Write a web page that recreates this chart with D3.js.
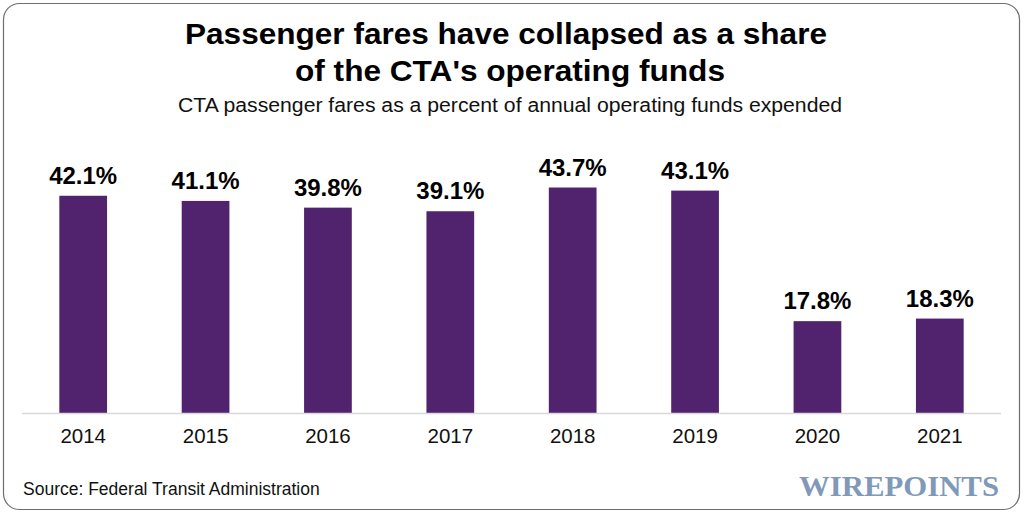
<!DOCTYPE html>
<html>
<head>
<meta charset="utf-8">
<script src="https://cdn.jsdelivr.net/npm/d3@7"></script>
<style>
  body { margin: 0; background: #fff; }
  svg { display: block; font-family: 'Liberation Sans', Arial, sans-serif; }
</style>
</head>
<body>
<svg id="chart" width="1024" height="516"></svg>
<script>
// chart data
const years = ['2014', '2015', '2016', '2017', '2018', '2019', '2020', '2021'];
const fareShare = [42.1, 41.1, 39.8, 39.1, 43.7, 43.1, 17.8, 18.3];
const titleLines = ['Passenger fares have collapsed as a share', "of the CTA's operating funds"];
const subtitle = 'CTA passenger fares as a percent of annual operating funds expended';
const source = 'Source: Federal Transit Administration';

const width = 1024;
const height = 516;
const plot = { left: 22, right: 1001, top: 155, bottom: 413 };

const svg = d3.select('#chart');

// Frame
svg.append('rect')
  .attr('x', 3.5)
  .attr('y', 3.5)
  .attr('width', width - 8)
  .attr('height', height - 10)
  .attr('rx', 16)
  .attr('fill', '#fff')
  .attr('stroke', '#6e6e6e')
  .attr('stroke-width', 1.2);

// Title + subtitle (the original type is a little condensed)
svg.append('g')
  .selectAll('text')
  .data(titleLines)
  .enter()
  .append('text')
  .attr('x', (d, i) => (i === 0 ? 506 : 510))
  .attr('y', (d, i) => 44 + i * 36.5)
  .attr('text-anchor', 'middle')
  .attr('font-size', 30)
  .attr('font-weight', 'bold')
  .attr('fill', '#000')
  .attr('textLength', (d, i) => (i === 0 ? 642 : 430))
  .attr('lengthAdjust', 'spacingAndGlyphs')
  .text((d) => d);

svg.append('text')
  .attr('x', 510)
  .attr('y', 112)
  .attr('text-anchor', 'middle')
  .attr('font-size', 19.5)
  .attr('fill', '#111')
  .attr('textLength', 664)
  .attr('lengthAdjust', 'spacingAndGlyphs')
  .text(subtitle);

// Scales
const x = d3.scaleBand()
  .domain(years)
  .range([plot.left, plot.right])
  .paddingInner(0.61)
  .paddingOuter(0.305);

const y = d3.scaleLinear()
  .domain([0, 50])
  .range([plot.bottom, plot.top]);

// Bars
svg.append('g')
  .selectAll('rect')
  .data(fareShare)
  .enter()
  .append('rect')
  .attr('x', (d, i) => x(years[i]))
  .attr('y', (d) => y(d))
  .attr('width', x.bandwidth())
  .attr('height', (d) => y(0) - y(d))
  .attr('fill', '#51236f');

// Value labels
svg.append('g')
  .selectAll('text')
  .data(fareShare)
  .enter()
  .append('text')
  .attr('x', (d, i) => x(years[i]) + x.bandwidth() / 2)
  .attr('y', (d) => y(d) - 12)
  .attr('text-anchor', 'middle')
  .attr('font-size', 23)
  .attr('font-weight', 'bold')
  .attr('fill', '#000')
  .attr('textLength', 68)
  .attr('lengthAdjust', 'spacingAndGlyphs')
  .text((d) => `${d.toFixed(1)}%`);

// X axis
const xAxis = svg.append('g')
  .attr('transform', `translate(0,${plot.bottom})`)
  .call(d3.axisBottom(x).tickSize(0).tickPadding(15).tickSizeOuter(0));
xAxis.select('.domain')
  .attr('stroke', '#d9d9d9')
  .attr('stroke-width', 1.5)
  .attr('d', `M${plot.left},0.5H${plot.right}`);
xAxis.selectAll('text')
  .attr('font-family', "'Liberation Sans', Arial, sans-serif")
  .attr('font-size', 20.5)
  .attr('fill', '#111')
  .attr('dy', '0.71em');

// Source
svg.append('text')
  .attr('x', 23)
  .attr('y', 495)
  .attr('font-size', 17.5)
  .attr('fill', '#111')
  .text(source);

// Watermark
svg.append('text')
  .attr('x', 799)
  .attr('y', 496)
  .attr('font-family', "'Liberation Serif', serif")
  .attr('font-size', 29)
  .attr('font-weight', 'bold')
  .attr('fill', '#8199b9')
  .attr('textLength', 200)
  .attr('lengthAdjust', 'spacingAndGlyphs')
  .text('WIREPOINTS');
</script>
</body>
</html>
